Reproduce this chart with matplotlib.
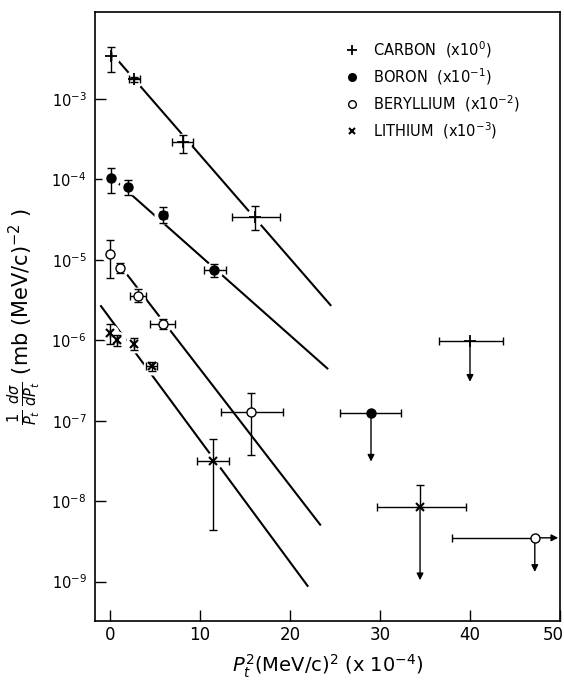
import numpy as np
import matplotlib
matplotlib.use("Agg")
import matplotlib.pyplot as plt
import matplotlib.transforms as mtransforms

# measured points: P_t^2 (x1e-4), value, y errors, x errors
carbon_x = [0.1, 2.7, 8.15, 16.1]
carbon_y = [3.4e-3, 1.76e-3, 2.9e-4, 3.4e-5]
carbon_ylo = [2.2e-3, 1.65e-3, 2.15e-4, 2.35e-5]
carbon_yhi = [4.5e-3, 1.88e-3, 3.6e-4, 4.7e-5]
carbon_xlo = [0.1, 2.1, 6.85, 13.6]
carbon_xhi = [0.1, 3.3, 9.25, 18.9]

boron_x = [0.1, 1.95, 5.85, 11.6]
boron_y = [1.03e-4, 8.1e-5, 3.6e-5, 7.5e-6]
boron_ylo = [6.7e-5, 6.4e-5, 2.9e-5, 6.05e-6]
boron_yhi = [1.4e-4, 9.8e-5, 4.55e-5, 8.9e-6]
boron_xlo = [0.1, 1.95, 5.5, 10.45]
boron_xhi = [0.1, 1.95, 6.35, 12.85]

beryl_x = [0.0, 1.1, 3.15, 5.85, 15.7]
beryl_y = [1.18e-5, 8.0e-6, 3.6e-6, 1.6e-6, 1.29e-7]
beryl_ylo = [5.9e-6, 6.8e-6, 3.0e-6, 1.4e-6, 3.8e-8]
beryl_yhi = [1.76e-5, 9.2e-6, 4.3e-6, 1.82e-6, 2.22e-7]
beryl_xlo = [0.0, 1.1, 2.2, 4.45, 12.35]
beryl_xhi = [0.0, 1.1, 4.05, 7.2, 19.2]

lith_x = [-0.05, 0.75, 2.7, 4.65, 11.4]
lith_y = [1.22e-6, 1.0e-6, 9.0e-7, 4.8e-7, 3.2e-8]
lith_ylo = [9.0e-7, 8.5e-7, 7.6e-7, 4.1e-7, 4.4e-9]
lith_yhi = [1.58e-6, 1.16e-6, 1.06e-6, 5.4e-7, 6.0e-8]
lith_xlo = [-0.05, 0.75, 2.7, 4.05, 9.65]
lith_xhi = [-0.05, 0.75, 2.7, 5.25, 13.25]

# upper limits: carbon, boron, beryllium, lithium
ul_x = [40.0, 29.0, 47.2, 34.45]
ul_y = [9.7e-7, 1.23e-7, 3.5e-9, 8.4e-9]
ul_xlo = [36.6, 25.6, 37.95, 29.7]
ul_xhi = [43.7, 32.35, 47.2, 39.55]
ul_arrow = [3.05e-7, 3.1e-8, 1.32e-9, 1.04e-9]

# fitted exponentials (end points)
fit_x0 = [0.55, 0.55, 0.3, -1.0]
fit_y0 = [3.33e-3, 9.8e-5, 1.12e-5, 2.66e-6]
fit_x1 = [24.5, 24.15, 23.35, 21.95]
fit_y1 = [2.74e-6, 4.47e-7, 5.1e-9, 8.85e-10]

labels = [r"CARBON  (x10$^{0}$)", r"BORON  (x10$^{-1}$)",
          r"BERYLLIUM  (x10$^{-2}$)", r"LITHIUM  (x10$^{-3}$)"]

fig = plt.figure(figsize=(5.64, 6.87), dpi=100)
ax = fig.add_axes([0.1684, 0.0961, 0.8245, 0.8864])
ax.set_yscale("log")
ax.set_xlim(-1.67, 50)
ax.set_ylim(10 ** -9.49, 10 ** -1.918)

for i in range(4):
    ax.plot([fit_x0[i], fit_x1[i]], [fit_y0[i], fit_y1[i]], color="black", lw=1.5, zorder=1)

series = [
    (carbon_x, carbon_y, carbon_ylo, carbon_yhi, carbon_xlo, carbon_xhi,
     dict(marker="+", ms=8, mew=1.3, mfc="black")),
    (boron_x, boron_y, boron_ylo, boron_yhi, boron_xlo, boron_xhi,
     dict(marker="o", ms=6.5, mfc="black")),
    (beryl_x, beryl_y, beryl_ylo, beryl_yhi, beryl_xlo, beryl_xhi,
     dict(marker="o", ms=6.5, mfc="white", mew=1.0)),
    (lith_x, lith_y, lith_ylo, lith_yhi, lith_xlo, lith_xhi,
     dict(marker="x", ms=6, mew=1.5)),
]

for x, y, ylo, yhi, xlo, xhi, mk in series:
    x = np.array(x); y = np.array(y)
    yerr = [y - np.array(ylo), np.array(yhi) - y]
    xerr = [x - np.array(xlo), np.array(xhi) - x]
    # white halo so the fit lines break around the points
    ax.plot(x, y, "o", ms=13, mfc="white", mec="none", zorder=2)
    ax.errorbar(x, y, yerr=yerr, xerr=xerr, fmt="none", ecolor="black",
                elinewidth=1.0, capsize=3, capthick=1.0, zorder=3)
    ax.plot(x, y, ls="none", color="black", mec="black", zorder=4, **mk)

# upper limits
for i in range(4):
    ax.errorbar([ul_x[i]], [ul_y[i]],
                xerr=[[ul_x[i] - ul_xlo[i]], [ul_xhi[i] - ul_x[i]]],
                fmt="none", ecolor="black", elinewidth=1.0, capsize=3, zorder=3)
    ax.annotate("", xy=(ul_x[i], ul_arrow[i]), xytext=(ul_x[i], ul_y[i]),
                arrowprops=dict(arrowstyle="-|>", color="black", lw=1.0,
                                mutation_scale=10, shrinkA=0, shrinkB=0), zorder=3)
ul_mk = [series[k][6] for k in range(4)]
for i in range(4):
    ax.plot([ul_x[i]], [ul_y[i]], ls="none", color="black", mec="black", zorder=4, **ul_mk[i])
# beryllium limit also open to the right, lithium has an upper error bar
ax.annotate("", xy=(49.8, ul_y[2]), xytext=(ul_x[2], ul_y[2]),
            arrowprops=dict(arrowstyle="-|>", color="black", lw=1.0,
                            mutation_scale=10, shrinkA=0, shrinkB=0), zorder=3)
ax.errorbar([ul_x[3]], [ul_y[3]], yerr=[[0], [1.58e-8 - ul_y[3]]], fmt="none",
            ecolor="black", elinewidth=1.0, capsize=3, zorder=3)

# legend drawn as text
for i in range(4):
    yy = 0.938 - i * 0.0445
    ax.plot([0.552], [yy], transform=ax.transAxes, ls="none", color="black",
            mec="black", clip_on=False, **dict(ul_mk[i], ms=ul_mk[i]["ms"] - 1))
    ax.text(0.597, yy, labels[i], transform=ax.transAxes, fontsize=10.5,
            va="center", ha="left")

ax.set_xticks([0, 10, 20, 30, 40, 50])
ax.set_yticks([1e-9, 1e-8, 1e-7, 1e-6, 1e-5, 1e-4, 1e-3])
ax.yaxis.set_minor_locator(matplotlib.ticker.NullLocator())
ax.tick_params(direction="in", length=8, width=1.0, labelsize=12, top=False, right=False)
ax.tick_params(axis="y", labelsize=10.5, pad=6)
for s in ax.spines.values():
    s.set_linewidth(1.2)

# last x label sits on the figure edge: right-align it so it stays inside
last = ax.get_xticklabels()[-1]
last.set_horizontalalignment("right")
last.set_transform(last.get_transform() + mtransforms.ScaledTranslation(4 / 100, 0, fig.dpi_scale_trans))

ax.set_xlabel(r"$P_t^2$(MeV/c)$^2$ (x 10$^{-4}$)", fontsize=14, labelpad=6)
ax.set_ylabel(r"$\frac{1}{P_t}\,\frac{d\sigma}{dP_t}$ (mb (MeV/c)$^{-2}$ )", fontsize=15, labelpad=6)

fig.savefig("out.png", dpi=100)
